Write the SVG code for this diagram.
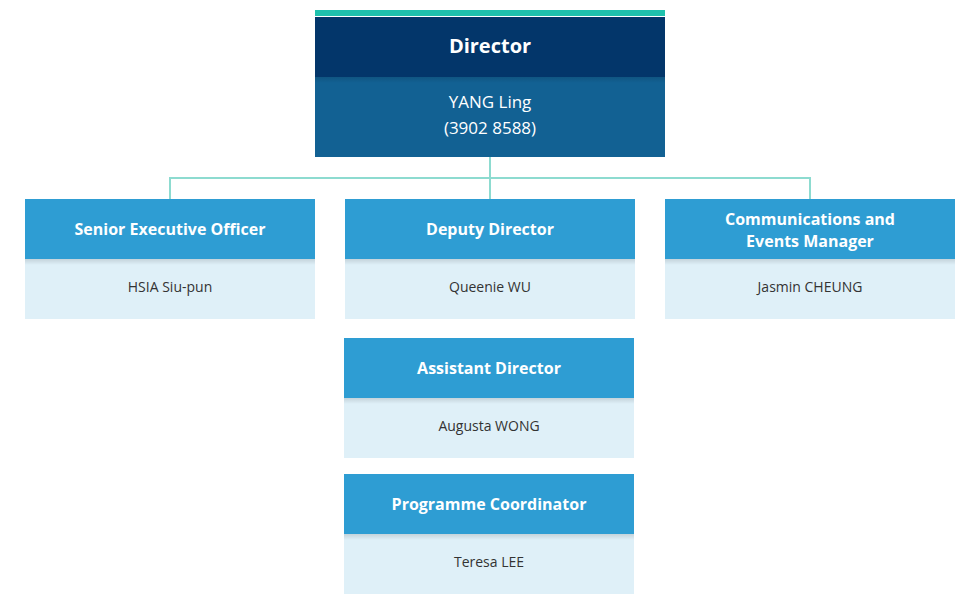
<svg xmlns="http://www.w3.org/2000/svg" width="980" height="600" viewBox="0 0 980 600">
<style>
text{font-family:"Open Sans","Liberation Sans",sans-serif;text-anchor:middle}
.h{fill:#2e9dd3}.b{fill:#dff0f8}
.ht{fill:#fff;font-weight:bold;font-size:16px}
.bt{fill:#333;font-size:14px}
.c{stroke:#8ddbd0;stroke-width:2;fill:none}
</style>
<defs>
<linearGradient id="sh" x1="0" y1="0" x2="0" y2="1"><stop offset="0" stop-color="#000" stop-opacity="0.12"/><stop offset="1" stop-color="#000" stop-opacity="0"/></linearGradient>
</defs>
<g id="connectors">
<path class="c" d="M490 157V199M170 199V178H810V199"/>
</g>
<g id="director">
<rect x="315" y="10" width="350" height="6" fill="#1fc1ad"/>
<rect x="315" y="17" width="350" height="60" fill="#03366a"/>
<rect x="315" y="77" width="350" height="80" fill="#126193"/>
<rect x="315" y="77" width="350" height="6" fill="url(#sh)"/>
<text x="490" y="53" style="fill:#fff;font-weight:bold;font-size:20px">Director</text>
<text x="490" y="108" style="fill:#fff;font-size:17px">YANG Ling</text>
<text x="490" y="134" style="fill:#fff;font-size:17px">(3902 8588)</text>
</g>
<g id="seo">
<rect class="h" x="25" y="199" width="290" height="60"/><rect class="b" x="25" y="259" width="290" height="60"/><rect x="25" y="259" width="290" height="6" fill="url(#sh)"/>
<text class="ht" x="170" y="235">Senior Executive Officer</text><text class="bt" x="170" y="292">HSIA Siu-pun</text>
</g>
<g id="deputy">
<rect class="h" x="345" y="199" width="290" height="60"/><rect class="b" x="345" y="259" width="290" height="60"/><rect x="345" y="259" width="290" height="6" fill="url(#sh)"/>
<text class="ht" x="490" y="235">Deputy Director</text><text class="bt" x="490" y="292">Queenie WU</text>
</g>
<g id="comms">
<rect class="h" x="665" y="199" width="290" height="60"/><rect class="b" x="665" y="259" width="290" height="60"/><rect x="665" y="259" width="290" height="6" fill="url(#sh)"/>
<text class="ht" x="810" y="225">Communications and</text><text class="ht" x="810" y="247">Events Manager</text><text class="bt" x="810" y="292">Jasmin CHEUNG</text>
</g>
<g id="assistant">
<rect class="h" x="344" y="338" width="290" height="60"/><rect class="b" x="344" y="398" width="290" height="60"/><rect x="344" y="398" width="290" height="6" fill="url(#sh)"/>
<text class="ht" x="489" y="374">Assistant Director</text><text class="bt" x="489" y="431">Augusta WONG</text>
</g>
<g id="coordinator">
<rect class="h" x="344" y="474" width="290" height="60"/><rect class="b" x="344" y="534" width="290" height="60"/><rect x="344" y="534" width="290" height="6" fill="url(#sh)"/>
<text class="ht" x="489" y="510">Programme Coordinator</text><text class="bt" x="489" y="567">Teresa LEE</text>
</g>
</svg>
